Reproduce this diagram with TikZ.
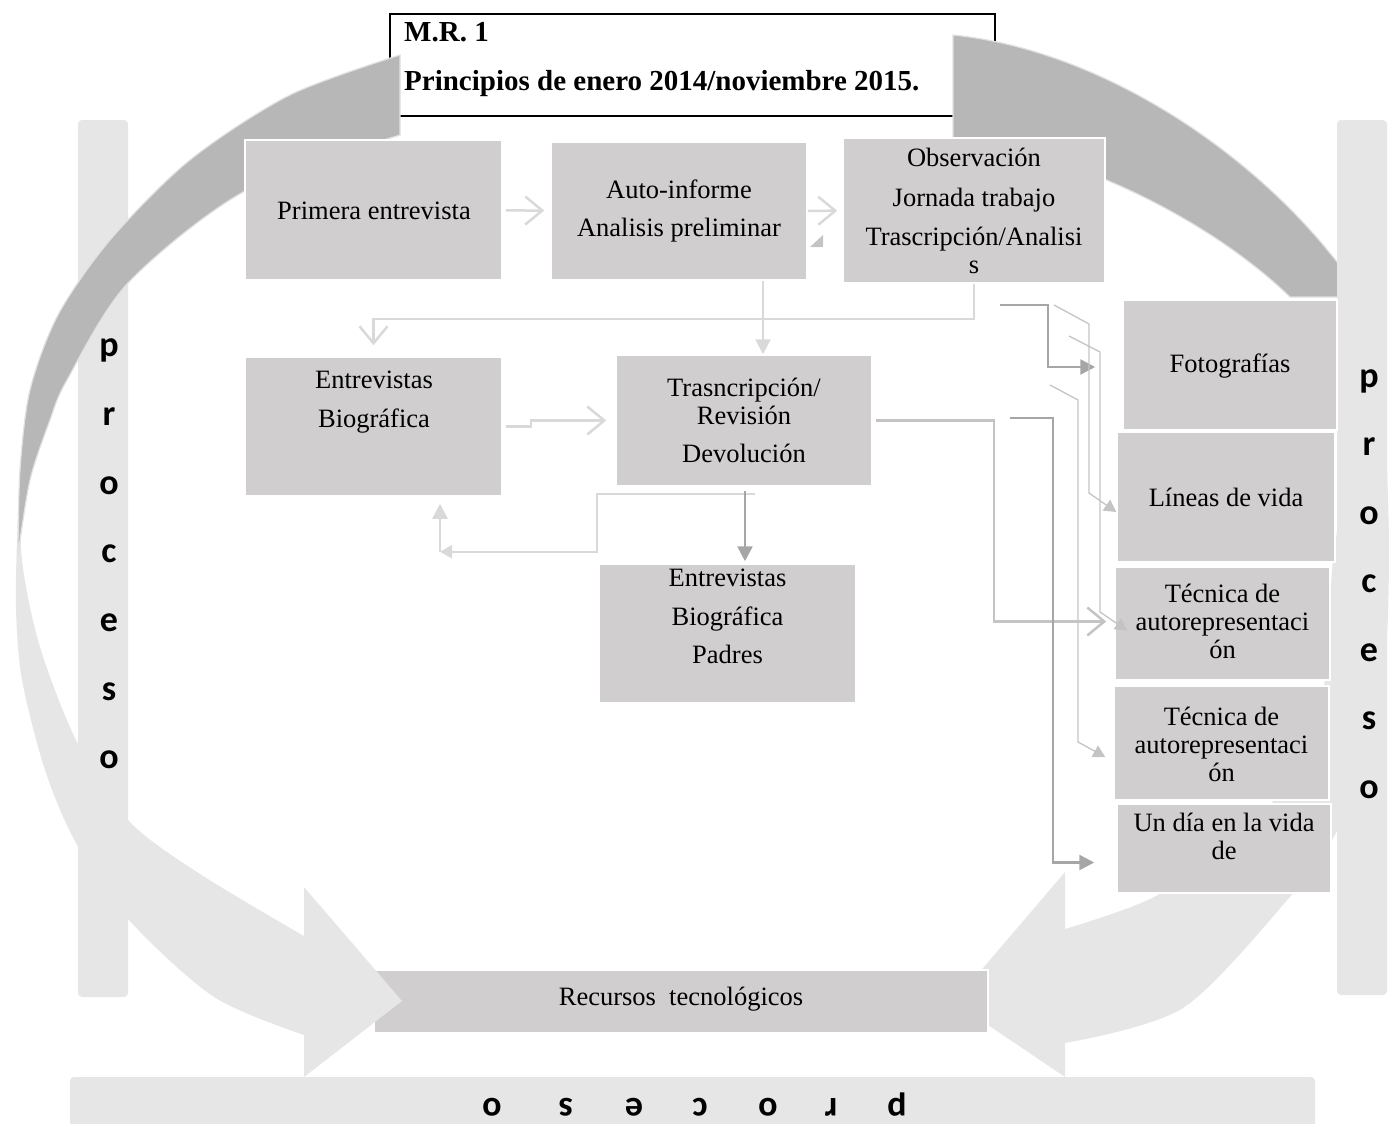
\documentclass[tikz,border=0pt]{standalone}
\usepackage{fontspec}
\setmainfont{Liberation Serif}
\newfontfamily\procfont{Carlito}
\usetikzlibrary{arrows.meta,calc,positioning}

\definecolor{boxgray}{RGB}{208,206,206}
\definecolor{arcdark}{RGB}{183,183,183}
\definecolor{arclight}{RGB}{230,230,230}
\definecolor{arcedge}{RGB}{225,225,225}
\definecolor{linelight}{RGB}{217,217,217}
\definecolor{linemid}{RGB}{196,196,196}
\definecolor{linedark}{RGB}{166,166,166}

\begin{document}
\begin{tikzpicture}[x=1pt,y=-1pt,
    box/.style={fill=boxgray,draw=white,line width=1.5pt,inner sep=0pt},
    txt/.style={align=center,inner sep=0pt,font=\fontsize{26.5}{28}\selectfont},
    titulo/.style={anchor=base west,inner sep=0pt,font=\bfseries\fontsize{29}{29}\selectfont},
    letra/.style={anchor=base,inner sep=0pt,font=\procfont\bfseries\fontsize{36}{36}\selectfont},
    linea/.style={linelight,line width=2.5pt},
    lineb/.style={linemid,line width=2.5pt},
    linec/.style={linedark,line width=2.5pt},
    fina/.style={linemid,line width=1.3pt},
    chev/.style={-{Straight Barb[length=17pt,width=28pt]}},
    tri/.style={-{Triangle[length=15pt,width=15pt]}},
    trich/.style={-{Triangle[length=12pt,width=13pt]}}]
  \useasboundingbox (0,0) rectangle (1389,1124);

  % flecha circular derecha
  \fill[arclight] plot[smooth] coordinates {(1383,410) (1387,470) (1389,560) (1385,660) (1365,760) (1335,835) (1289,898) (1183,1008) (1065,1043)}
    -- (1065,1077) -- (954,1002) -- (1065,872)
    -- plot[smooth] coordinates {(1065,929) (1152,898) (1240,840) (1300,760) (1325,680) (1333,560) (1350,470) (1383,410)} -- cycle;

  \node[box,minimum width=614pt,minimum height=63pt] (recur) at (681,1001.5) {};
  \node[txt] (recurt) at (681,999) {Recursos\ \ tecnológicos};

  % flecha circular izquierda
  \fill[arclight] plot[smooth] coordinates {(20,470) (17,540) (16,610) (22,680) (45,770) (76,843) (129,920) (214,997) (304,1035)}
    -- (304,1077) -- (402,1001) -- (304,887)
    -- plot[smooth] coordinates {(304,936) (200,874) (129,821) (77,742) (40,647) (22,560) (20,470)} -- cycle;

  \fill[arclight,rounded corners=4pt] (78,120) rectangle (128,997);

  \draw[line width=2pt,fill=white] (390,14) rectangle (995,116);

  \filldraw[fill=arcdark,draw=arcedge,line width=1.2pt]
    plot[smooth] coordinates {(400,55) (290,95) (190,160) (110,240) (58,315) (30,390) (20,470) (18,555)}
    -- plot[smooth] coordinates {(18,555) (30,480) (50,420) (67,380) (128,283) (245,191) (400,135)} -- cycle;
  \filldraw[fill=arcdark,draw=arcedge,line width=1.2pt]
    (953,35) .. controls (1100,50) and (1250,150) .. (1337,262) -- (1345,262) -- (1345,297) -- (1290,297)
    .. controls (1200,210) and (1050,145) .. (953,140) -- cycle;

  \fill[arclight,rounded corners=4pt] (1337,120) rectangle (1387,995);
  \fill[arclight,rounded corners=4pt] (70,1077) rectangle (1315,1140);

  % proceso
  \node[letra] (pl1) at (109,356.5) {p};
  \node[letra] (pl2) at (109,425) {r};
  \node[letra] (pl3) at (109,494) {o};
  \node[letra] (pl4) at (109,562.5) {c};
  \node[letra] (pl5) at (109,631) {e};
  \node[letra] (pl6) at (109,700) {s};
  \node[letra] (pl7) at (109,768) {o};

  \node[letra] (pr1) at (1369,387) {p};
  \node[letra] (pr2) at (1369,455.5) {r};
  \node[letra] (pr3) at (1369,524) {o};
  \node[letra] (pr4) at (1369,592.5) {c};
  \node[letra] (pr5) at (1369,661) {e};
  \node[letra] (pr6) at (1369,729.5) {s};
  \node[letra] (pr7) at (1369,798) {o};

  \node[letra,rotate=180] (pb1) at (897,1098) {p};
  \node[letra,rotate=180] (pb2) at (831,1098) {r};
  \node[letra,rotate=180] (pb3) at (768,1098) {o};
  \node[letra,rotate=180] (pb4) at (700,1098) {c};
  \node[letra,rotate=180] (pb5) at (634,1098) {e};
  \node[letra,rotate=180] (pb6) at (566,1098) {s};
  \node[letra,rotate=180] (pb7) at (492,1098) {o};

  % cajas
  \node[box,minimum width=257pt,minimum height=140pt] (prim) at (373.5,210) {};
  \node[box,minimum width=256pt,minimum height=138pt] (auto) at (679,211) {};
  \node[box,minimum width=262pt,minimum height=145pt] (obs) at (974,210.5) {};
  \node[box,minimum width=257pt,minimum height=139pt] (ebio) at (373.5,426.5) {};
  \node[box,minimum width=256pt,minimum height=131pt] (trans) at (744,420.5) {};
  \node[box,minimum width=257pt,minimum height=139pt] (padres) at (727.5,633.5) {};
  \node[box,minimum width=214pt,minimum height=130pt] (foto) at (1230,365) {};
  \node[box,minimum width=218pt,minimum height=130pt] (lineas) at (1226,497) {};
  \node[box,minimum width=215pt,minimum height=113pt] (tec1) at (1222.5,623.5) {};
  \node[box,minimum width=215pt,minimum height=114pt] (tec2) at (1221.5,743) {};
  \node[box,minimum width=214pt,minimum height=89pt] (dia) at (1224,848.5) {};

  \node[txt] (primt) at (374,211) {Primera entrevista};
  \node[txt] (autot) at (679,211) {Auto-informe\\[10pt]Analisis preliminar};
  \node[txt] (obst) at (974,211) {Observación\\[12pt]Jornada trabajo\\[11pt]Trascripción/Analisi\\s};
  \node[txt] (ebiot) at (374,402.5) {Entrevistas\\[11pt]Biográfica};
  \node[txt] (transt) at (744,420.5) {Trasncripción/\\Revisión\\[10pt]Devolución};
  \node[txt] (padrest) at (727.5,616.5) {Entrevistas\\[11pt]Biográfica\\[10pt]Padres};
  \node[txt] (fotot) at (1230,366) {Fotografías};
  \node[txt] (lineast) at (1226,497) {Líneas de vida};
  \node[txt] (tec1t) at (1222.5,621) {Técnica de\\autorepresentaci\\ón};
  \node[txt] (tec2t) at (1221.5,744) {Técnica de\\autorepresentaci\\ón};
  \node[txt] (diat) at (1224,836) {Un día en la vida\\de};

  \node[titulo] (mr) at (404,42) {M.R. 1};
  \node[titulo] (fecha) at (404,90) {Principios de enero 2014/noviembre 2015.};

  % conectores
  \coordinate (f1) at (1000,305);
  \coordinate (g1) at (1054,305);
  \coordinate (g2) at (1069,336);
  \coordinate (g3) at (1050,385);
  \coordinate (d1) at (1010,418);

  \draw[linea,chev,shorten <=3pt,shorten >=6pt] (prim) -- (auto);
  \draw[linea,chev,shorten >=5pt] (auto) -- (obs);
  \fill[linemid] (810,247) -- (823,235) -- (823,247) -- cycle;
  \draw[linea,chev,shorten >=11pt] (obs.south) -- ++(0,35) -| (ebio.north);
  \draw[linea,tri] ([xshift=84pt]auto.south) -- ([xshift=19pt]trans.north);
  \draw[linea,chev,shorten <=3pt,shorten >=9pt] (ebio.east) -- ++(28,0) |- (trans.west);
  \draw[linea,trich] ([xshift=11pt,yshift=-7pt]trans.south) -- ++(-158,0) -- ++(0,58) -- ++(-157,0) coordinate (back);
  \draw[linea,tri,shorten >=7pt] (back) -- (back |- ebio.south);
  \draw[linec,tri,shorten <=4pt,shorten >=2pt] ([xshift=1pt]trans.south) -- ([xshift=17.5pt]padres.north);
  \draw[lineb,chev,shorten <=3pt,shorten >=8pt] (trans.east) -- ++(121,0) |- ([yshift=2pt]tec1.west);
  \draw[linec,tri,shorten >=27pt] (f1) -- ++(48,0) |- ([yshift=-2pt]foto.west);
  \draw[fina,trich] (g1) -- ++(35,19) -- ++(0,169) -- ([yshift=-15pt]lineas.west);
  \draw[fina,trich] (g2) -- ++(31,16) -- ++(0,260) -- ([xshift=13pt,yshift=-7pt]tec1.west);
  \draw[fina,trich] (g3) -- ++(28,15) -- ++(0,342) -- ([xshift=-8pt,yshift=-14pt]tec2.west);
  \draw[linec,tri,shorten >=22pt] (d1) -- ++(43,0) |- ([yshift=-14pt]dia.west);
\end{tikzpicture}
\end{document}
